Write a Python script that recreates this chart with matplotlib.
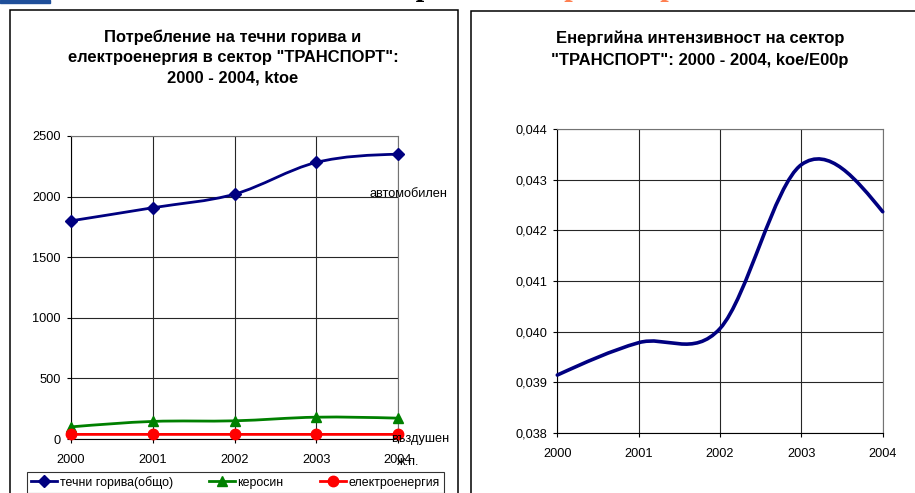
import numpy as np
import matplotlib
matplotlib.use("Agg")
import matplotlib.pyplot as plt
from matplotlib.path import Path
from matplotlib.patches import PathPatch, Rectangle
from matplotlib.lines import Line2D
from matplotlib.ticker import FuncFormatter

plt.rcParams['font.family'] = ['Liberation Sans', 'DejaVu Sans']

# data
years = [2000, 2001, 2002, 2003, 2004]
fuel_total = [1800, 1908, 2020, 2282, 2350]
kerosene = [100, 145, 150, 180, 172]
electricity = [38, 38, 38, 38, 38]
intensity = [0.03914, 0.03978, 0.04006, 0.04330, 0.04237]

left_title = 'Потребление на течни горива и\nелектроенергия в сектор "ТРАНСПОРТ":\n2000 - 2004, ktoe'
right_title = 'Енергийна интензивност на сектор\n"ТРАНСПОРТ": 2000 - 2004, koe/E00p'
legend_labels = ['течни горива(общо)', 'керосин', 'електроенергия']

W, H = 915, 493


def smooth_path(x, y):
    # excel-like smoothed line as bezier segments
    x = np.asarray(x, float)
    y = np.asarray(y, float)
    n = len(x)
    m = np.zeros(n)
    for i in range(1, n - 1):
        m[i] = (y[i + 1] - y[i - 1]) / (x[i + 1] - x[i - 1])
    m[0] = (3 * (y[1] - y[0]) / (x[1] - x[0]) - m[1]) / 2
    m[-1] = (3 * (y[-1] - y[-2]) / (x[-1] - x[-2]) - m[-2]) / 2
    verts = [(x[0], y[0])]
    codes = [Path.MOVETO]
    for i in range(n - 1):
        h = x[i + 1] - x[i]
        verts += [(x[i] + h / 3, y[i] + m[i] * h / 3),
                  (x[i + 1] - h / 3, y[i + 1] - m[i + 1] * h / 3),
                  (x[i + 1], y[i + 1])]
        codes += [Path.CURVE4] * 3
    return Path(verts, codes)


def add_curve(ax, x, y, color, lw):
    p = PathPatch(smooth_path(x, y), facecolor='none', edgecolor=color,
                  lw=lw, capstyle='round', joinstyle='round', zorder=3)
    p.set_clip_on(False)
    ax.add_patch(p)


def style_axes(ax, ypad):
    ax.set_xlim(2000, 2004)
    ax.set_xticks(years)
    ax.grid(True, color='0.15', lw=0.8)
    for s in ax.spines.values():
        s.set_color('0.45')
        s.set_linewidth(0.8)
    ax.spines['left'].set_color('black')
    ax.spines['bottom'].set_color('black')
    ax.tick_params(direction='out', length=3, width=0.8, labelsize=9.2)
    ax.tick_params(axis='x', pad=8)
    ax.tick_params(axis='y', pad=ypad)
    ax.set_axisbelow(True)


fig = plt.figure(figsize=(W / 100, H / 100), dpi=100)

# frames of the two charts
fig.patches.append(Rectangle((10 / W, -0.05), 447.5 / W, 1.05 - 10 / H,
                             transform=fig.transFigure, fill=False, ec='black', lw=1.1))
fig.patches.append(Rectangle((470.5 / W, -0.05), 450 / W, 1.05 - 10.5 / H,
                             transform=fig.transFigure, fill=False, ec='black', lw=1.1))
# cut-off slide header
fig.patches.append(Rectangle((0, 1 - 3 / H), 50 / W, 3 / H,
                             transform=fig.transFigure, color='#1f4f9a'))
fig.text(433 / W, 1 + 5 / H, 'сектор', ha='right', va='baseline',
         fontfamily='Liberation Serif', fontweight='bold', fontsize=22, color='black')
fig.text(546 / W, 1 + 5 / H, 'Транспорт', ha='left', va='baseline',
         fontfamily='Liberation Serif', fontweight='bold', fontsize=22, color='#ff7f50')

# left chart
ax1 = fig.add_axes([71 / W, 1 - 439 / H, 327 / W, 303 / H])
style_axes(ax1, 4.5)
ax1.set_ylim(0, 2500)
ax1.set_yticks([0, 500, 1000, 1500, 2000, 2500])

series = [(fuel_total, '#000080', 'D', 6.5), (kerosene, '#008000', '^', 7.5),
          (electricity, '#ff0000', 'o', 7.5)]
handles = []
for vals, c, mk, ms in series:
    add_curve(ax1, years, vals, c, 2.0)
    ax1.plot(years, vals, ls='none', marker=mk, ms=ms, color=c, clip_on=False, zorder=4)
    handles.append(Line2D([], [], color=c, lw=2.0, marker=mk, ms=ms))

ax1.text(2003.65, 2020, 'автомобилен', fontsize=9.2, va='center', ha='left',
         clip_on=False, zorder=6)
ax1.text(2003.92, 0, 'въздушен', fontsize=9.2, va='center', ha='left',
         clip_on=False, zorder=6)
ax1.text(2003.99, -190, 'ж.п.', fontsize=9.2, va='center', ha='left',
         clip_on=False, zorder=6)

fig.legend(handles, legend_labels, loc='upper center',
           bbox_to_anchor=(235.5 / W, 1 - 471.5 / H), ncol=3, fontsize=8.9,
           frameon=True, fancybox=False, edgecolor='black',
           handlelength=2.1, handletextpad=0.2, columnspacing=2.95,
           borderpad=0.35, borderaxespad=0)
fig.legends[0].get_frame().set_linewidth(0.8)

fig.text(233 / W, 1 - 57.5 / H, left_title, ha='center', va='center', fontsize=11.9,
         fontweight='bold', linespacing=1.42)

# right chart
ax2 = fig.add_axes([557.3 / W, 1 - 432.7 / H, 325.4 / W, 303.4 / H])
style_axes(ax2, 4.0)
ax2.set_ylim(0.038, 0.044)
ax2.set_yticks([0.038, 0.039, 0.040, 0.041, 0.042, 0.043, 0.044])
ax2.yaxis.set_major_formatter(FuncFormatter(lambda v, p: ('%.3f' % v).replace('.', ',')))
add_curve(ax2, years, intensity, '#000080', 2.6)

fig.text(700 / W, 1 - 49 / H, right_title, ha='center', va='center', fontsize=12,
         fontweight='bold', linespacing=1.6)

fig.savefig('out.png', dpi=100)
